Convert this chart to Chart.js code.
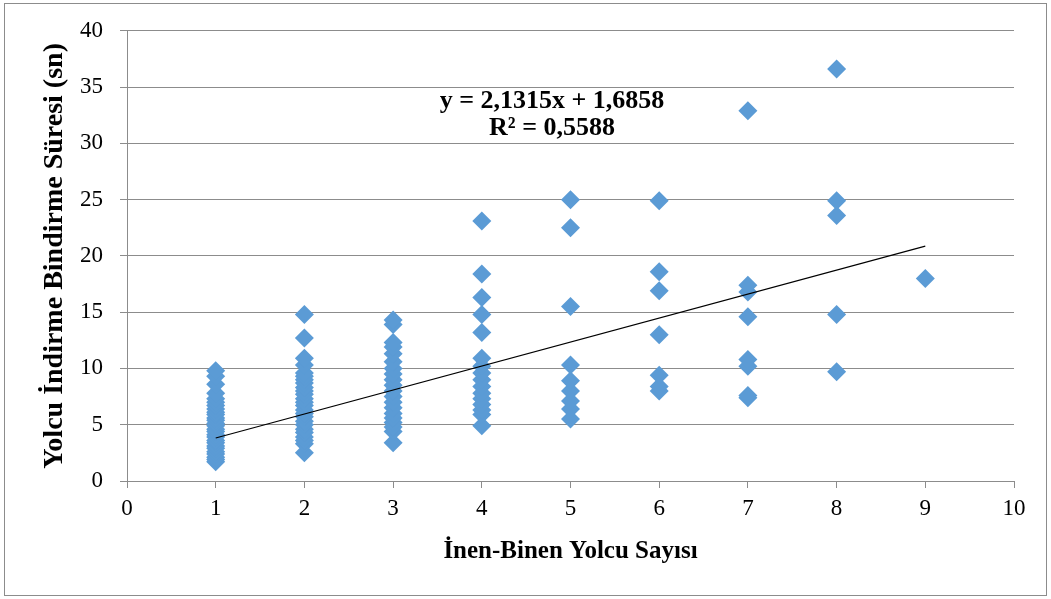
<!DOCTYPE html>
<html>
<head>
<meta charset="utf-8">
<script src="https://cdn.jsdelivr.net/npm/chart.js@4.4.0/dist/chart.umd.min.js"></script>
<style>
html,body{margin:0;padding:0;background:#fff;}
#wrap{width:1051px;height:599px;position:relative;}
canvas{display:block;}
</style>
</head>
<body>
<div id="wrap"><canvas id="c" width="1051" height="599"></canvas></div>
<script>
// Observed durations (sn) per number of boarding/alighting passengers
const yAt1 = [1.7,1.9,2.1,2.4,2.6,2.9,3.1,3.4,3.6,3.9,4.1,4.4,4.6,4.9,5.1,5.4,5.6,5.9,6.1,6.4,6.7,7.0,7.3,7.8,8.6,9.3,9.8];
const yAt2 = [2.5,3.3,3.6,3.9,4.3,4.6,5.0,5.3,5.7,6.0,6.3,6.7,7.0,7.3,7.7,8.0,8.3,8.7,9.0,9.3,9.6,10.3,10.9,12.7,14.8];
const yAt3 = [3.4,4.4,4.8,5.2,5.6,6.0,6.5,7.0,7.5,8.0,8.5,9.0,9.5,10.0,10.6,11.3,11.9,12.3,13.9,14.3];
const yAt4 = [4.9,5.9,6.3,6.8,7.3,7.8,8.4,9.0,9.6,10.2,10.9,13.2,14.8,16.3,18.4,23.1];
const yAt5 = [5.5,6.4,7.1,8.0,8.9,10.3,15.5,22.5,25.0];
const yAt6 = [8.0,8.4,9.4,13.0,16.9,18.6,24.9];
const yAt7 = [7.4,7.6,10.2,10.8,14.6,16.8,17.4,32.9];
const yAt8 = [9.7,14.8,23.6,24.9,36.6];
const yAt9 = [18.0];
const passengerCounts = [1,2,3,4,5,6,7,8,9];
// Linear trendline endpoints (y = 2,1315x + 1,6858)
const trendX = [1, 9];
const trendY = [3.82, 20.87];
const trendLabel = ["y = 2,1315x + 1,6858", "R² = 0,5588"];
const xTicks = [0,1,2,3,4,5,6,7,8,9,10];
const yTicks = [0,5,10,15,20,25,30,35,40];

const columns = [yAt1,yAt2,yAt3,yAt4,yAt5,yAt6,yAt7,yAt8,yAt9];
const points = [];
columns.forEach((col, i) => col.forEach(v => points.push({x: passengerCounts[i], y: v})));
const trendPts = trendX.map((x, i) => ({x: x, y: trendY[i]}));

const FONT = "'Liberation Serif','Times New Roman',serif";
const GRID = '#8c8c8c';

const frame = {
  id: 'frame',
  beforeDraw(chart) {
    const ctx = chart.ctx;
    ctx.save();
    ctx.fillStyle = '#fff';
    ctx.fillRect(0, 0, chart.width, chart.height);
    ctx.strokeStyle = '#8c8c8c';
    ctx.lineWidth = 1;
    ctx.strokeRect(4.5, 3.5, 1042, 592);
    ctx.restore();
  },
  afterDatasetsDraw(chart) {
    const ctx = chart.ctx;
    ctx.save();
    ctx.fillStyle = '#000';
    ctx.font = 'bold 26px ' + FONT;
    ctx.textAlign = 'center';
    ctx.textBaseline = 'middle';
    ctx.fillText(trendLabel[0], 552, 101);
    ctx.fillText(trendLabel[1], 552, 128);
    ctx.restore();
  }
};

new Chart(document.getElementById('c'), {
  type: 'scatter',
  data: {
    datasets: [
      {
        data: points,
        pointStyle: 'rectRot',
        pointRadius: 9.5,
        pointHoverRadius: 9.5,
        backgroundColor: '#5B9BD5',
        borderColor: '#5B9BD5',
        borderWidth: 0,
        order: 2
      },
      {
        type: 'line',
        data: trendPts,
        borderColor: '#000',
        borderWidth: 1.2,
        pointRadius: 0,
        fill: false,
        order: 1
      }
    ]
  },
  options: {
    responsive: false,
    animation: false,
    devicePixelRatio: 1,
    layout: { padding: { left: 10, right: 37, top: 30, bottom: 8 } },
    plugins: { legend: { display: false }, tooltip: { enabled: false } },
    scales: {
      x: {
        type: 'linear',
        min: 0, max: 10,
        afterBuildTicks(axis) { axis.ticks = xTicks.map(v => ({value: v})); },
        afterFit(axis) { axis.height = 110; },
        grid: { drawOnChartArea: false, drawTicks: true, tickLength: 7, color: GRID },
        border: { display: true, color: GRID },
        ticks: { color: '#000', font: { family: FONT, size: 23 }, padding: 7, maxRotation: 0 },
        title: { display: true, text: 'İnen-Binen Yolcu Sayısı', color: '#000',
                 font: { family: FONT, size: 25, weight: 'bold' }, padding: { top: 0, bottom: 24 } }
      },
      y: {
        type: 'linear',
        min: 0, max: 40,
        afterBuildTicks(axis) { axis.ticks = yTicks.map(v => ({value: v})); },
        afterFit(axis) { axis.width = 117; },
        grid: { drawOnChartArea: true, drawTicks: true, tickLength: 7, color: GRID },
        border: { display: true, color: GRID },
        ticks: { color: '#000', font: { family: FONT, size: 23 }, padding: 17 },
        title: { display: true, text: 'Yolcu İndirme Bindirme Süresi (sn)', color: '#000',
                 font: { family: FONT, size: 28, weight: 'bold' }, padding: { top: 28, bottom: 0 } }
      }
    }
  },
  plugins: [frame]
});
</script>
</body>
</html>
